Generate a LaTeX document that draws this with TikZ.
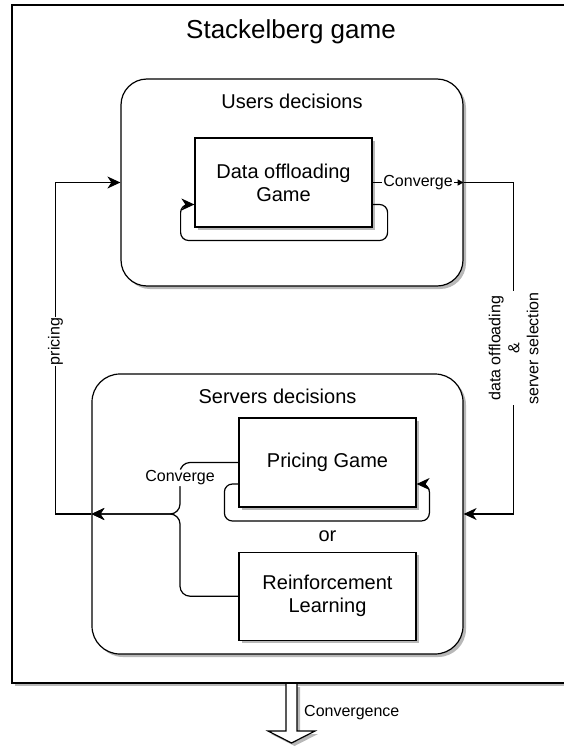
\documentclass[tikz,border=0pt]{standalone}
\usepackage{fontspec}
\setmainfont{Liberation Sans}
\usetikzlibrary{arrows.meta,positioning,shadows}

\begin{document}
\begin{tikzpicture}[x=1pt, y=-1pt,
  node distance=14pt and 6pt,
  shadowed/.style={drop shadow={shadow xshift=3pt, shadow yshift=-3pt, fill=black!28, opacity=1}},
  panel/.style={draw, fill=white, line width=1.2pt, shadowed, inner sep=0pt},
  groupbox/.style={panel, rounded corners=26pt},
  grouptitle/.style={font=\fontsize{20}{23}\selectfont, inner sep=1pt},
  box/.style={panel, minimum width=177pt, minimum height=89pt, align=center, font=\fontsize{20}{23}\selectfont},
  lbl/.style={fill=white, inner sep=1pt, align=center, font=\fontsize{16}{19}\selectfont},
  arrow/.style={-{Stealth[length=13pt, width=12pt, inset=4pt]}, line width=1.2pt},
  selfloop/.style={arrow, rounded corners=8pt}
]
\useasboundingbox (0,0) rectangle (564,747);
\clip (0,0) rectangle (564,747);
% outer frame, open past the right edge
\path[fill=white, shadowed] (12,5) rectangle (640,683);
\draw[line width=1.2pt] (640,5) -- (12,5) -- (12,683) -- (640,683);
\node[font=\fontsize{26}{30}\selectfont] (title) at (291,32) {Stackelberg game};
% users side
\node[groupbox, minimum width=342pt, minimum height=207pt] (users) at (292,182.5) {};
\node[grouptitle, below=of users.north] (userstitle) {Users decisions};
\node[box] (data) at (283.5,182.5) {Data offloading\\Game};
% servers side
\node[groupbox, minimum width=371pt, minimum height=280pt, rounded corners=28pt] (servers) at (277.5,514) {};
\node[grouptitle, below=of servers.north] (serverstitle) {Servers decisions};
\node[box] (pricing) at (327.5,462.5) {Pricing Game};
\node[grouptitle, below=22pt of pricing] (orlbl) {or};
\node[box, minimum height=88pt, below=44pt of pricing] (rl) {Reinforcement\\Learning};
\coordinate (merge) at (180,514);
% loops and links
\draw[selfloop] ([yshift=-22pt]data.east) -- ++(15,0) -- ++(0,36) -- ++(-207,0) -- ++(0,-36) -- ([yshift=-22pt]data.west);
\draw[-{Triangle[length=6pt, width=6pt]}, line width=1.2pt] (data.east) -- node[lbl]{Converge} (users.east);
\draw[arrow] (users.east) -- ++(50,0) |- node[lbl, rotate=90, pos=0.25]{data offloading\\\&\\server selection} (servers.east);
\draw[selfloop] ([yshift=-21.5pt]pricing.west) -- ++(-14,0) -- ++(0,37) -- ++(205,0) -- ++(0,-37) -- ([yshift=-21.5pt]pricing.east);
\draw[arrow, rounded corners=10pt] (pricing.west) -| node[lbl, pos=0.65]{Converge} (merge) -- (servers.west);
\draw[arrow, rounded corners=10pt] (rl.west) -| (merge) -- (servers.west);
\draw[arrow] (servers.west) -- ++(-36,0) |- node[lbl, rotate=90, pos=0.26]{pricing} (users.west);
% result
\coordinate (out) at (291.5,684);
\draw[line width=1.2pt, fill=white, shadowed] ([xshift=-5.5pt]out) -- ++(0,47) -- ++(-18,0) -- ++(23.5,12) -- ++(23.5,-12) -- ++(-18,0) -- ++(0,-47);
\node[lbl, fill=none, anchor=west] (convlbl) at (303,713) {Convergence};
\end{tikzpicture}
\end{document}
